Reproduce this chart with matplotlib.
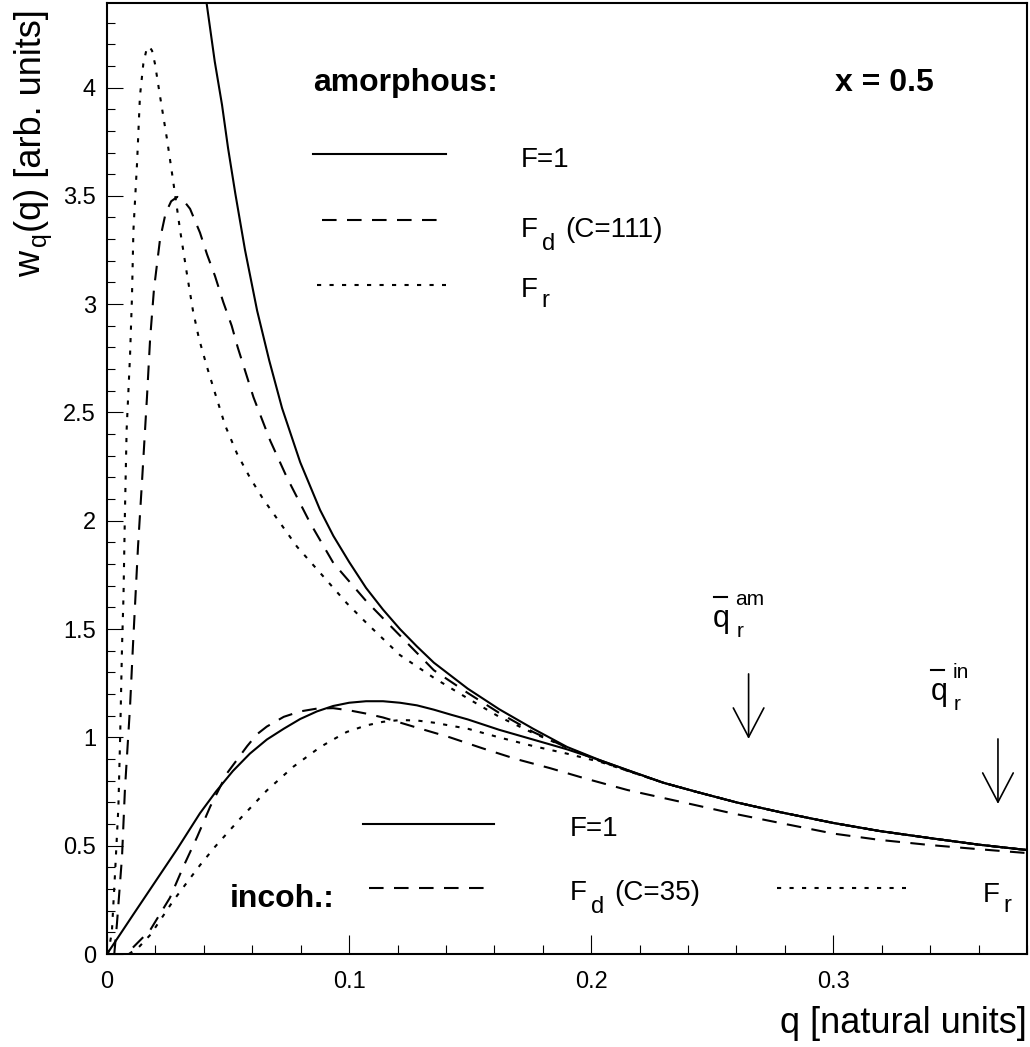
import numpy as np
import matplotlib
matplotlib.use("Agg")
import matplotlib.pyplot as plt
from matplotlib.ticker import MultipleLocator

plt.rcParams["font.family"] = ["Liberation Sans", "DejaVu Sans"]
plt.rcParams["mathtext.fontset"] = "custom"
plt.rcParams["mathtext.rm"] = "Liberation Sans"

# DATA
# -----------------------------------------------

# common tail where all curves except incoh. F_d run together
q_tail = [0.230, 0.244, 0.260, 0.278, 0.300, 0.319, 0.340, 0.360, 0.380]
w_tail = [0.790, 0.747, 0.700, 0.655, 0.605, 0.568, 0.535, 0.505, 0.480]

# amorphous, F=1
q_am_f1 = [0.041, 0.0445, 0.0475, 0.050, 0.053, 0.057, 0.062, 0.067, 0.0723,
           0.0798, 0.088, 0.0935, 0.100, 0.107, 0.114, 0.121, 0.128, 0.135,
           0.149, 0.162, 0.176, 0.190, 0.204, 0.216]
w_am_f1 = [4.40, 4.12, 3.92, 3.72, 3.51, 3.25, 2.97, 2.74, 2.52,
           2.27, 2.05, 1.93, 1.81, 1.69, 1.59, 1.50, 1.42, 1.345,
           1.225, 1.13, 1.04, 0.956, 0.893, 0.845]

# amorphous, F_d (C=111)
q_am_fd = [0.003, 0.0041, 0.0062, 0.0074, 0.0095, 0.0107, 0.0128, 0.0145,
           0.0165, 0.0178, 0.0194, 0.0219, 0.0242, 0.0265, 0.029, 0.0315,
           0.0343, 0.0384, 0.0413, 0.0446, 0.048, 0.0515, 0.054, 0.0605,
           0.0674, 0.0743, 0.0839, 0.0935, 0.107, 0.121, 0.135, 0.149, 0.162,
           0.176, 0.190, 0.204, 0.216]
w_am_fd = [0.0, 0.14, 0.45, 0.76, 1.14, 1.42, 1.88, 2.19,
           2.57, 2.84, 3.07, 3.30, 3.42, 3.475, 3.495, 3.48,
           3.44, 3.33, 3.23, 3.13, 3.01, 2.90, 2.80, 2.57,
           2.37, 2.20, 1.99, 1.805, 1.63, 1.47, 1.31, 1.205, 1.113,
           1.025, 0.953, 0.890, 0.843]

# amorphous, F_r
q_am_fr = [0.0004, 0.0020, 0.0033, 0.0047, 0.0054, 0.0062, 0.0068, 0.0074,
           0.0081, 0.0095, 0.0103, 0.0109, 0.0124, 0.0136, 0.0150, 0.0162,
           0.0174, 0.0186, 0.0198, 0.0219, 0.0248, 0.0273, 0.0302, 0.0330,
           0.0355, 0.0380, 0.0413, 0.0446, 0.0488, 0.0537, 0.059, 0.0645,
           0.0715, 0.0785, 0.088, 0.099, 0.107, 0.121, 0.135, 0.149, 0.162,
           0.176, 0.190, 0.204, 0.216]
w_am_fr = [0.0, 0.10, 0.37, 0.68, 0.99, 1.42, 1.65, 2.04,
           2.42, 2.76, 3.03, 3.34, 3.65, 3.96, 4.11, 4.17,
           4.19, 4.17, 4.11, 3.96, 3.76, 3.57, 3.34, 3.14,
           2.97, 2.84, 2.71, 2.59, 2.44, 2.31, 2.20, 2.10,
           1.99, 1.88, 1.76, 1.62, 1.53, 1.38, 1.275, 1.18, 1.095,
           1.02, 0.953, 0.889, 0.842]

# incoherent, F=1
q_in_f1 = [0.0, 0.0107, 0.020, 0.029, 0.0384, 0.045, 0.052, 0.059, 0.066,
           0.073, 0.0798, 0.0867, 0.0934, 0.100, 0.107, 0.114, 0.121, 0.128,
           0.135, 0.142, 0.149, 0.162, 0.176, 0.190, 0.204, 0.216]
w_in_f1 = [0.0, 0.18, 0.335, 0.485, 0.65, 0.75, 0.845, 0.925, 0.99,
           1.04, 1.085, 1.12, 1.145, 1.16, 1.167, 1.167, 1.16, 1.148,
           1.128, 1.105, 1.083, 1.035, 0.99, 0.945, 0.893, 0.845]

# incoherent, F_d (C=35)
q_in_fd = [0.0107, 0.0178, 0.026, 0.0314, 0.0372, 0.0426, 0.0496, 0.0579,
           0.062, 0.066, 0.073, 0.0798, 0.0867, 0.0934, 0.100, 0.107, 0.114,
           0.128, 0.1417, 0.155, 0.169, 0.183, 0.197, 0.215, 0.238, 0.258,
           0.278, 0.300, 0.319, 0.340, 0.360, 0.380]
w_in_fd = [0.03, 0.11, 0.26, 0.40, 0.54, 0.68, 0.835, 0.96,
           1.015, 1.05, 1.095, 1.12, 1.133, 1.135, 1.125, 1.11, 1.092,
           1.045, 1.00, 0.95, 0.90, 0.858, 0.812, 0.757, 0.700, 0.650,
           0.605, 0.556, 0.527, 0.503, 0.484, 0.466]

# incoherent, F_r
q_in_fr = [0.009, 0.013, 0.018, 0.0273, 0.034, 0.0384, 0.0446, 0.055, 0.066,
           0.077, 0.088, 0.0934, 0.099, 0.107, 0.114, 0.121, 0.128, 0.135,
           0.149, 0.162, 0.176, 0.190, 0.204, 0.216]
w_in_fr = [0.0, 0.03, 0.09, 0.245, 0.345, 0.41, 0.495, 0.625, 0.755,
           0.865, 0.955, 0.99, 1.025, 1.055, 1.072, 1.08, 1.078, 1.068,
           1.04, 1.0, 0.96, 0.925, 0.886, 0.842]

# mean recoil momenta marked by arrows
q_bar_am = 0.265
q_bar_in = 0.368

SOLID = dict(color="black", lw=1.5, linestyle="-")
DASHED = dict(color="black", lw=1.5, linestyle=(0, (7, 5)))
DOTTED = dict(color="black", lw=1.5, linestyle=(0, (2, 4)))


def with_tail(q, w):
    return list(q) + q_tail, list(w) + w_tail


def sub_label(ax, q, w, base, sub, rest="", sub_drop=8.5):
    # ROOT-like text with a near full size subscript
    ax.text(q, w, base, fontsize=20, ha="left", va="baseline")
    ax.annotate(sub, (q, w), xytext=(15, -sub_drop), textcoords="offset points",
                fontsize=17, ha="left", va="baseline")
    if rest:
        ax.annotate(rest, (q, w), xytext=(32, 0), textcoords="offset points",
                    fontsize=20, ha="left", va="baseline")


def qbar_label(ax, q, w, sup):
    # q with a bar on top, subscript r and a superscript
    ax.text(q, w, "q", fontsize=22, ha="left", va="baseline")
    ax.plot([q + 0.0004, q + 0.0058], [w + 0.139, w + 0.139], color="black", lw=1.5)
    ax.annotate(sup, (q, w), xytext=(16, 16), textcoords="offset points",
                fontsize=15, ha="left", va="baseline")
    ax.annotate("r", (q, w), xytext=(17, -7), textcoords="offset points",
                fontsize=15, ha="left", va="baseline")


def down_arrow(ax, q, w_top, w_tip):
    ax.annotate("", xy=(q, w_tip), xytext=(q, w_top),
                arrowprops=dict(arrowstyle="->,head_length=1.05,head_width=0.55",
                                mutation_scale=20, lw=1.2, color="black",
                                shrinkA=0, shrinkB=0))


# PLOTTING
# -----------------------------------------------

fig = plt.figure(figsize=(10.30, 10.47), dpi=100)
ax = fig.add_axes([0.1039, 0.0888, 0.8932, 0.9083])

ax.plot(*with_tail(q_am_f1, w_am_f1), **SOLID)
ax.plot(*with_tail(q_am_fd, w_am_fd), **DASHED)
ax.plot(*with_tail(q_am_fr, w_am_fr), **DOTTED)
ax.plot(*with_tail(q_in_f1, w_in_f1), **SOLID)
ax.plot(q_in_fd, w_in_fd, **DASHED)
ax.plot(*with_tail(q_in_fr, w_in_fr), **DOTTED)

ax.set_xlim(0, 0.38)
ax.set_ylim(0, 4.39)

ax.xaxis.set_major_locator(MultipleLocator(0.1))
ax.xaxis.set_minor_locator(MultipleLocator(0.02))
ax.yaxis.set_major_locator(MultipleLocator(0.5))
ax.yaxis.set_minor_locator(MultipleLocator(0.1))
ax.xaxis.set_major_formatter(lambda v, p: f"{v:g}")
ax.yaxis.set_major_formatter(lambda v, p: f"{v:g}")

ax.tick_params(axis="both", which="both", direction="in", width=0.8,
               top=False, right=False, labelsize=17)
ax.tick_params(axis="x", which="major", length=14, pad=12)
ax.tick_params(axis="x", which="minor", length=6.5)
ax.tick_params(axis="y", which="major", length=11.5, pad=8)
ax.tick_params(axis="y", which="minor", length=6)
for sp in ax.spines.values():
    sp.set_linewidth(1.5)

# axis titles
ax.text(1.0, -0.073, "q [natural units]", transform=ax.transAxes,
        fontsize=26, ha="right", va="center")
ylab = dict(xycoords="axes fraction", textcoords="offset points", rotation=90,
            rotation_mode="anchor", ha="left", va="center")
ax.annotate("w", (-0.0826, 0.712), xytext=(0, 0), fontsize=26, **ylab)
ax.annotate("q", (-0.0826, 0.712), xytext=(6, 22), fontsize=18, **ylab)
ax.annotate("(q) [arb. units]", (-0.0826, 0.712), xytext=(0, 32), fontsize=26, **ylab)

# amorphous legend
ax.text(0.0851, 3.982, "amorphous:", fontsize=23, fontweight="bold", va="baseline")
ax.text(0.3008, 3.982, "x = 0.5", fontsize=23, fontweight="bold", va="baseline")
ax.plot([0.0851, 0.1401], [3.695, 3.695], **SOLID)
ax.plot([0.0888, 0.1401], [3.39, 3.39], **DASHED)
ax.plot([0.0868, 0.1401], [3.09, 3.09], **DOTTED)
ax.text(0.171, 3.635, "F=1", fontsize=20, va="baseline")
sub_label(ax, 0.171, 3.312, "F", "d", "(C=111)", sub_drop=9.5)
sub_label(ax, 0.171, 3.035, "F", "r", sub_drop=7.5)

# incoherent legend
ax.plot([0.1058, 0.1599], [0.60, 0.60], **SOLID)
ax.plot([0.1083, 0.1599], [0.305, 0.305], **DASHED)
ax.plot([0.2769, 0.3302], [0.305, 0.305], **DOTTED)
ax.text(0.1913, 0.545, "F=1", fontsize=20, va="baseline")
sub_label(ax, 0.1913, 0.249, "F", "d", "(C=35)", sub_drop=9)
sub_label(ax, 0.3616, 0.240, "F", "r", sub_drop=7.5)
ax.text(0.0508, 0.217, "incoh.:", fontsize=23, fontweight="bold", va="baseline")

# mean momentum markers
down_arrow(ax, q_bar_am, 1.293, 0.993)
down_arrow(ax, q_bar_in, 0.993, 0.693)
qbar_label(ax, 0.2504, 1.510, "am")
qbar_label(ax, 0.3401, 1.173, "in")

fig.savefig("out.png", dpi=100)
